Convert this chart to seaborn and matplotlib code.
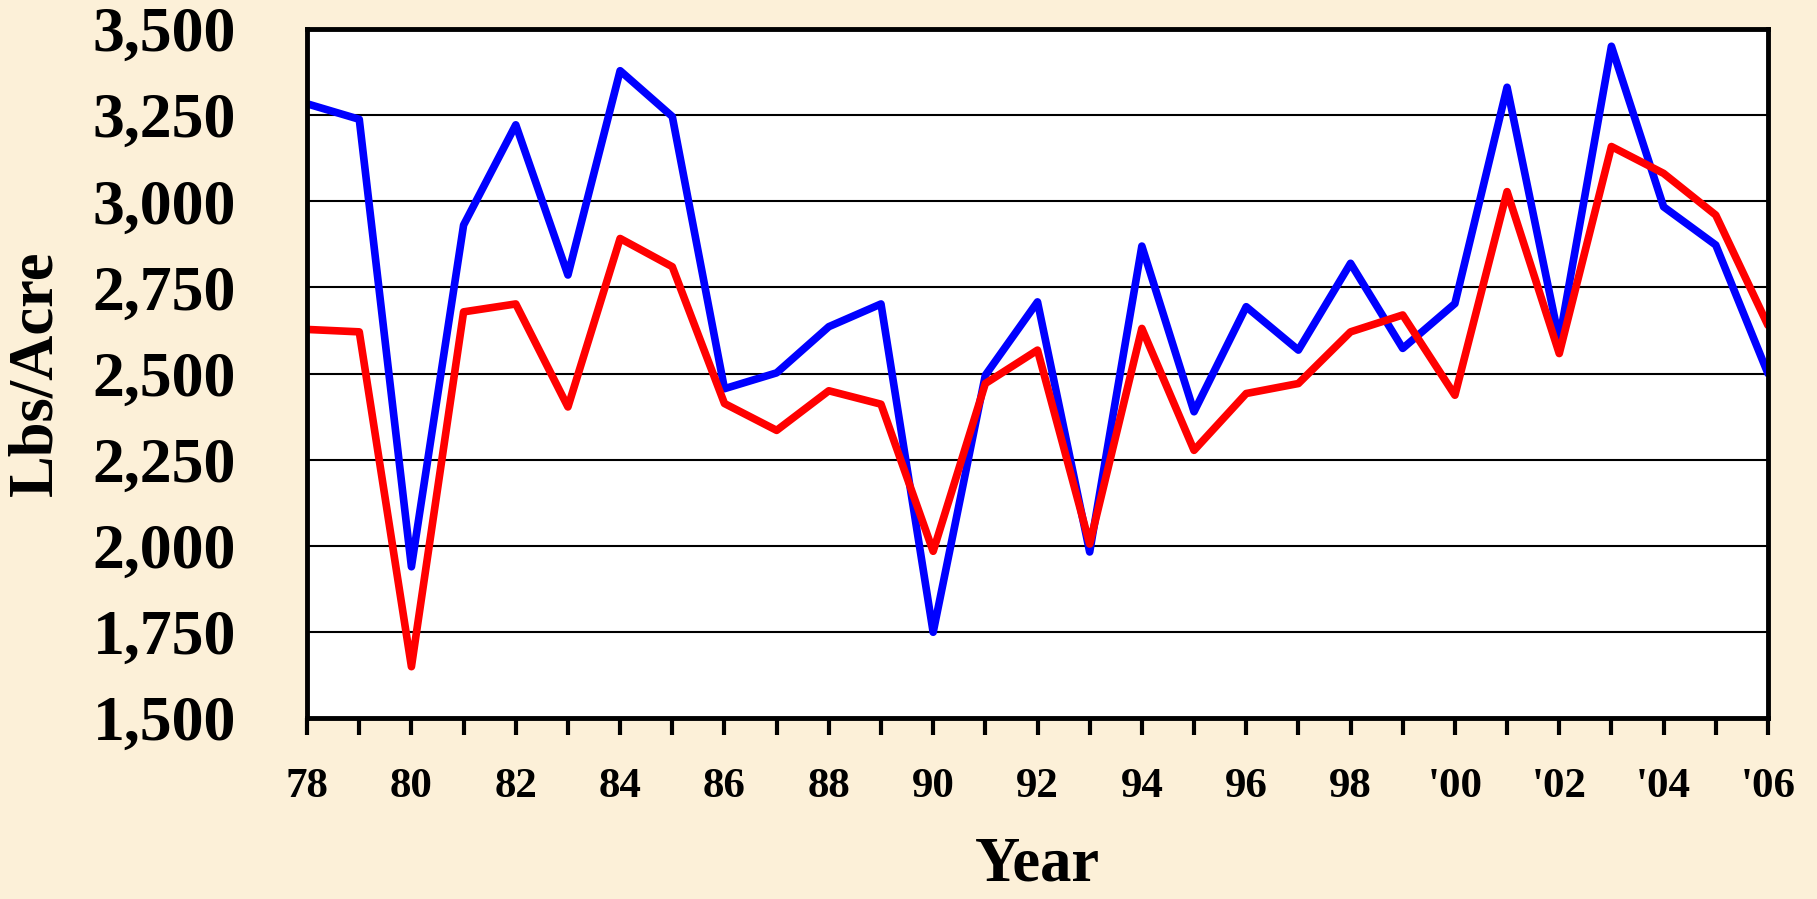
import matplotlib
matplotlib.use("Agg")
import matplotlib.pyplot as plt
from matplotlib.ticker import FuncFormatter, MultipleLocator
import pandas as pd
import seaborn as sns

# values (lbs/acre)
years = list(range(1978, 2007))
blue_yield = [3283, 3238, 1939, 2931, 3222, 2786, 3379, 3246, 2456, 2502,
              2636, 2702, 1749, 2495, 2708, 1982, 2870, 2389, 2694, 2568,
              2820, 2573, 2703, 3331, 2597, 3450, 2984, 2873, 2500]
red_yield = [2628, 2621, 1649, 2679, 2702, 2403, 2892, 2810, 2413, 2335,
             2450, 2411, 1984, 2471, 2568, 2005, 2631, 2277, 2442, 2471,
             2621, 2670, 2437, 3028, 2558, 3159, 3081, 2960, 2640]
label_years = list(range(1978, 2007, 2))
x_labels = ["78", "80", "82", "84", "86", "88", "90", "92", "94", "96",
            "98", "'00", "'02", "'04", "'06"]

df = pd.DataFrame({
    "year": years * 2,
    "yield": blue_yield + red_yield,
    "series": ["blue"] * len(years) + ["red"] * len(years),
})

sns.set_style("white")
plt.rcParams["font.family"] = ["Liberation Serif", "DejaVu Serif"]
plt.rcParams["font.weight"] = "bold"
for key in ["text.color", "axes.labelcolor", "xtick.color", "ytick.color"]:
    plt.rcParams[key] = "black"

bg = "#FCF0D8"
fig = plt.figure(figsize=(18.17, 8.99), dpi=100, facecolor=bg)
ax = fig.add_axes([0.169, 0.2013, 0.804, 0.7664])
ax.set_facecolor("white")

sns.lineplot(data=df, x="year", y="yield", hue="series",
             palette={"blue": "#0000FF", "red": "#FF0000"},
             linewidth=5.5, legend=False, ax=ax, zorder=3,
             solid_capstyle="round", solid_joinstyle="round")

ax.set_xlim(1978, 2006)
ax.set_ylim(1500, 3500)

ax.yaxis.set_major_locator(MultipleLocator(250))
ax.yaxis.set_major_formatter(FuncFormatter(lambda v, p: f"{int(v):,}"))
ax.grid(axis="y", color="black", linewidth=1.5, zorder=1)
ax.grid(axis="x", visible=False)

ax.set_xticks(label_years)
ax.set_xticklabels(x_labels)
ax.set_xticks(years, minor=True)

for s in ax.spines.values():
    s.set_color("black")
    s.set_linewidth(3.5)
    s.set_zorder(4)

ax.tick_params(axis="y", which="major", direction="out", length=15,
               width=2, colors="black", labelsize=46, pad=36)
ax.tick_params(axis="x", which="both", direction="out", length=12,
               width=3, colors="black", bottom=True)
ax.tick_params(axis="x", which="major", labelsize=31, pad=24)
for lab in ax.get_xticklabels() + ax.get_yticklabels():
    lab.set_fontweight("bold")

ax.set_xlabel("Year", fontsize=45, fontweight="bold", labelpad=22,
              color="black")
ax.set_ylabel("Lbs/Acre", fontsize=45, fontweight="bold", labelpad=20,
              color="black")

fig.savefig("out.png", dpi=100, facecolor=bg)
